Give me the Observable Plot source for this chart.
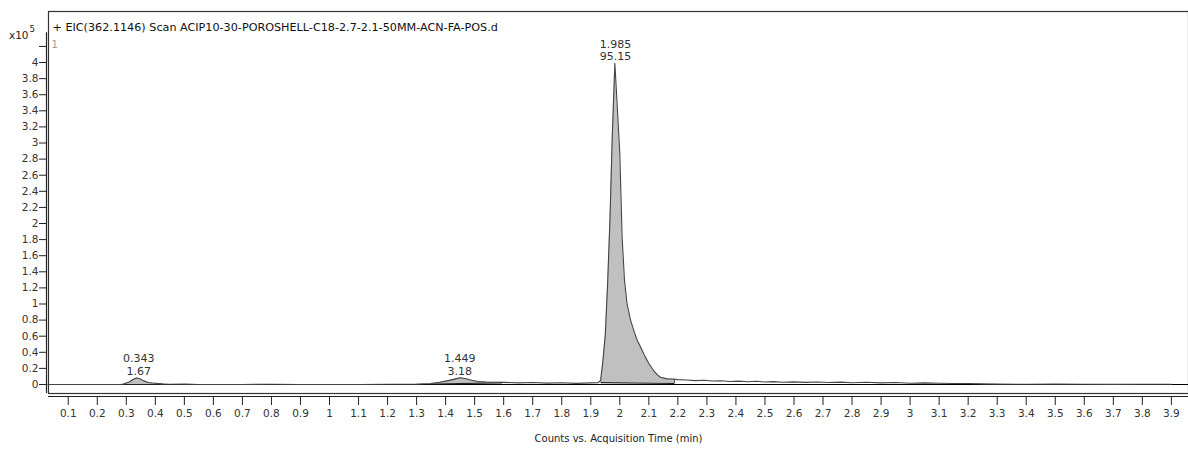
<!DOCTYPE html>
<html>
<head>
<meta charset="utf-8">
<script src="https://cdn.jsdelivr.net/npm/d3@7"></script>
<script src="https://cdn.jsdelivr.net/npm/@observablehq/plot@0.6"></script>
<style>
  html, body { margin: 0; padding: 0; background: #fff; }
  #chart svg { display: block; }
</style>
</head>
<body>
<div id="chart"></div>
<script>
// Acquisition time (min)
const times = [
  0.03, 0.1, 0.2, 0.28, 0.29, 0.31, 0.325, 0.335, 0.345, 0.36, 0.375, 0.39, 0.41, 0.43, 0.45,
  0.5, 0.55, 0.7, 0.8, 0.9, 1.0, 1.1, 1.2, 1.3, 1.35, 1.38, 1.41, 1.435, 1.449, 1.47, 1.49,
  1.51, 1.54, 1.57, 1.6, 1.65, 1.7, 1.75, 1.8, 1.85, 1.9, 1.925, 1.934, 1.942, 1.95, 1.958,
  1.966, 1.974, 1.983, 1.992, 2.0, 2.008, 2.016, 2.025, 2.037, 2.05, 2.06, 2.075, 2.088, 2.1,
  2.117, 2.13, 2.14, 2.163, 2.18, 2.2, 2.23, 2.26, 2.29, 2.32, 2.35, 2.38, 2.41, 2.44, 2.47,
  2.5, 2.53, 2.56, 2.6, 2.64, 2.68, 2.72, 2.76, 2.8, 2.85, 2.9, 2.95, 3.0, 3.05, 3.1, 3.15,
  3.2, 3.25, 3.3, 3.4, 3.5, 3.6, 3.7, 3.8, 3.9, 3.96
];
// Counts (x10^5)
const counts = [
  0.0, 0.0, 0.0, 0.0, 0.005, 0.03, 0.065, 0.08, 0.075, 0.045, 0.025, 0.018, 0.012, 0.006, 0.003,
  0.004, 0.0, 0.0, 0.002, 0.0, 0.0, 0.0, 0.002, 0.004, 0.012, 0.028, 0.048, 0.07, 0.083, 0.072, 0.052,
  0.036, 0.03, 0.028, 0.026, 0.02, 0.024, 0.017, 0.021, 0.014, 0.02, 0.022, 0.05, 0.3, 0.62, 1.25,
  2.04, 3.07, 3.99, 3.4, 2.87, 1.83, 1.3, 1.0, 0.8, 0.65, 0.55, 0.44, 0.34, 0.26,
  0.17, 0.12, 0.09, 0.07, 0.068, 0.06, 0.056, 0.048, 0.052, 0.044, 0.046, 0.038, 0.042, 0.034, 0.04,
  0.03, 0.036, 0.028, 0.033, 0.026, 0.03, 0.024, 0.029, 0.022, 0.027, 0.02, 0.024, 0.015, 0.02, 0.016,
  0.012, 0.013, 0.008, 0.005, 0.003, 0.004, 0.002, 0.001, 0.002, 0.002
];
// Integrated peaks
const peakRT = [0.343, 1.449, 1.985];
const peakHeight = [0.08, 0.083, 3.99];
const peakPct = ["1.67", "3.18", "95.15"];
const integStart = [0.29, 1.348, 1.934];
const integEnd = [0.44, 1.595, 2.188];
const integBaseStart = [0.0, 0.006, 0.022];
const integBaseEnd = [0.0, 0.02, 0.012];

const xTicks = [0.1,0.2,0.3,0.4,0.5,0.6,0.7,0.8,0.9,1,1.1,1.2,1.3,1.4,1.5,1.6,1.7,1.8,1.9,2,
  2.1,2.2,2.3,2.4,2.5,2.6,2.7,2.8,2.9,3,3.1,3.2,3.3,3.4,3.5,3.6,3.7,3.8,3.9];
const yTicks = [0,0.2,0.4,0.6,0.8,1,1.2,1.4,1.6,1.8,2,2.2,2.4,2.6,2.8,3,3.2,3.4,3.6,3.8,4,4.2];
const yTickLabels = ["0","0.2","0.4","0.6","0.8","1","1.2","1.4","1.6","1.8","2","2.2","2.4","2.6","2.8","3","3.2","3.4","3.6","3.8","4",""];

const title = "+ EIC(362.1146) Scan ACIP10-30-POROSHELL-C18-2.7-2.1-50MM-ACN-FA-POS.d";
const xLabel = "Counts vs. Acquisition Time (min)";

const xDomain = [0.032, 3.959];
const yDomain = [-0.112, 4.634];

const trace = times.map((t, i) => ({t, v: counts[i]}));
function interp(t) {
  for (let i = 1; i < times.length; i++) {
    if (times[i] >= t) {
      const a = times[i-1], b = times[i];
      const f = (t - a) / (b - a);
      return counts[i-1] + f * (counts[i] - counts[i-1]);
    }
  }
  return counts[counts.length-1];
}
const fillData = [];
peakRT.forEach((rt, k) => {
  const s = integStart[k], e = integEnd[k];
  const base = t => integBaseStart[k] + (t - s) / (e - s) * (integBaseEnd[k] - integBaseStart[k]);
  const pts = [s, ...times.filter(t => t > s && t < e), e];
  pts.forEach(t => fillData.push({peak: k, t, v: interp(t), b: base(t)}));
});
const integLines = peakRT.map((rt, k) => ({x1: integStart[k], y1: integBaseStart[k], x2: integEnd[k], y2: integBaseEnd[k]}));
const integEdges = peakRT.map((rt, k) => ({x: integEnd[k], y1: integBaseEnd[k], y2: interp(integEnd[k])}));
const labels = peakRT.map((rt, k) => ({x: rt, y: peakHeight[k], text: rt.toFixed(3) + "\n" + peakPct[k]}));

const font = "DejaVu Sans, Verdana, sans-serif";

const chart = Plot.plot({
  width: 1188,
  height: 452,
  marginLeft: 48,
  marginRight: 0,
  marginTop: 11,
  marginBottom: 59,
  style: {fontFamily: font, fontSize: "10px", color: "#222", background: "#fff"},
  x: {domain: xDomain},
  y: {domain: yDomain},
  marks: [
    Plot.areaY(fillData, {x: "t", y1: "b", y2: "v", z: "peak", fill: "#c0c0c0", curve: "linear"}),
    Plot.ruleY([0], {stroke: "#000", strokeWidth: 1.2}),
    Plot.link(integLines, {x1: "x1", y1: "y1", x2: "x2", y2: "y2", stroke: "#222", strokeWidth: 1.2}),
    Plot.ruleX(integEdges, {x: "x", y1: "y1", y2: "y2", stroke: "#444", strokeWidth: 1}),
    Plot.line(trace, {x: "t", y: "v", stroke: "#444", strokeWidth: 1.1, curve: "linear"}),
    Plot.text(labels, {x: "x", y: "y", text: "text", lineAnchor: "bottom", dy: -3, fontSize: 11, fill: "#333", lineHeight: 1.15}),
    Plot.frame({stroke: "#333", strokeWidth: 1.2}),
    // y axis line (double-line look)
    Plot.ruleX([xDomain[0]], {y1: 4.37, y2: yDomain[0], dx: -2, stroke: "#222", strokeWidth: 1.2}),
    Plot.axisY(yTicks, {tickSize: 7, tickPadding: 1, dx: -2, tickFormat: (d, i) => yTickLabels[i], label: null, fontSize: 10.5, fill: "#333"}),
    // x axis line below frame
    Plot.ruleY([yDomain[0]], {dy: 3, stroke: "#222", strokeWidth: 1.2}),
    Plot.axisX(xTicks, {tickSize: 8, tickPadding: 4, dy: 4, tickFormat: d => String(d), label: null, fontSize: 10.5, fill: "#333"}),
    Plot.text([xLabel], {frameAnchor: "bottom", dy: 48, fontSize: 10, fill: "#222"}),
    Plot.text([title], {frameAnchor: "top-left", dx: 4, dy: 12, textAnchor: "start", fontSize: 11.2, fill: "#111"}),
    Plot.text(["1"], {frameAnchor: "top-left", dx: 3, dy: 29, textAnchor: "start", fontSize: 10, fill: "#999"}),
    Plot.text(["x10"], {frameAnchor: "top-left", dx: -20, dy: 20, textAnchor: "end", fontSize: 10.5, fill: "#222"}),
    Plot.text(["5"], {frameAnchor: "top-left", dx: -19, dy: 14, textAnchor: "start", fontSize: 8.5, fill: "#222"})
  ]
});
document.getElementById("chart").appendChild(chart);
</script>
</body>
</html>
